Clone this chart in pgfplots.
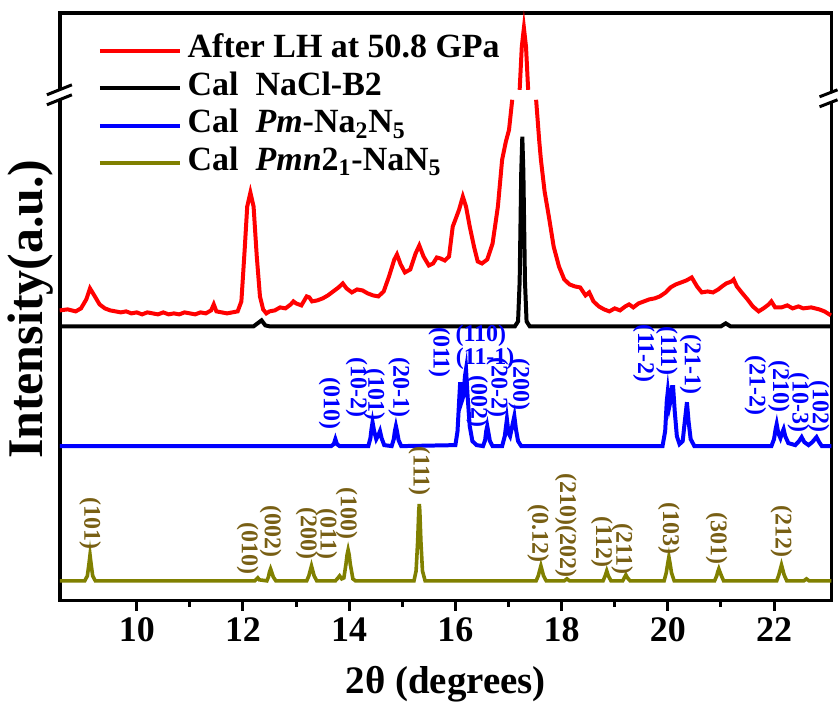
\documentclass[border=0pt]{standalone}
\usepackage{fontspec}
\setmainfont{Liberation Serif}
\usepackage{pgfplots}
\pgfplotsset{compat=1.18}
\definecolor{olivel}{RGB}{128,128,0}
\definecolor{olivet}{RGB}{120,95,20}
\definecolor{bluel}{RGB}{0,0,255}

\pgfplotstableread{
x y
8.55 291
8.7 292
8.85 290
8.95 293
9.05 302
9.12 313
9.2 306
9.3 297
9.4 293
9.5 291
9.6 290
9.7 289
9.8 290
9.9 288
10.0 289
10.1 287
10.2 289
10.3 288
10.4 287
10.5 289
10.6 287
10.7 288
10.8 287
10.9 289
11.0 288
11.1 287
11.2 289
11.3 288
11.4 291
11.45 297
11.5 290
11.6 289
11.7 288
11.8 289
11.9 290
11.97 300
12.03 350
12.08 395
12.14 409
12.2 395
12.26 345
12.32 305
12.38 292
12.44 288
12.5 290
12.6 291
12.7 294
12.8 293
12.9 297
12.95 300
13.0 298
13.1 296
13.2 305
13.25 304
13.3 300
13.4 301
13.5 303
13.6 306
13.7 310
13.8 314
13.88 318
13.95 313
14.05 309
14.15 312
14.25 311
14.35 308
14.45 306
14.55 305
14.65 310
14.75 325
14.85 342
14.9 347
14.97 337
15.05 329
15.15 332
15.25 348
15.32 356
15.4 345
15.5 336
15.58 338
15.65 344
15.72 343
15.8 341
15.88 345
15.95 375
16.0 382
16.07 392
16.14 405
16.2 395
16.27 375
16.35 355
16.42 340
16.5 338
16.6 342
16.7 358
16.8 395
16.88 442
16.95 460
17.01 472
17.07 502
nan nan
17.21 512
17.25 555
17.29 574
17.33 555
17.37 512
nan nan
17.52 502
17.58 460
17.61 442
17.68 410
17.76 385
17.85 355
17.95 335
18.05 322
18.15 317
18.25 315
18.35 314
18.45 306
18.52 309
18.6 300
18.7 295
18.8 292
18.9 290
19.0 293
19.1 291
19.2 295
19.27 297
19.35 294
19.45 298
19.55 300
19.65 302
19.75 303
19.85 305
19.96 309
20.05 314
20.15 317
20.25 319
20.35 321
20.45 324
20.55 315
20.64 309
20.75 310
20.85 309
20.95 312
21.02 315
21.1 318
21.2 320
21.24 322
21.3 315
21.39 309
21.5 302
21.6 295
21.71 290
21.8 293
21.9 297
21.95 300
22.02 294
22.14 294
22.25 296
22.35 293
22.46 295
22.55 293
22.7 294
22.85 292
22.95 290
23.07 286
}\redtab

\pgfplotstableread{
x y
8.553 275
12.2 275
12.3 279
12.35 281
12.42 276
12.5 275
17.12 275
17.18 280
17.21 320
17.24 430
17.26 465
17.28 430
17.31 320
17.34 280
17.4 275
21.0 275
21.09 278
21.18 275
23.08 275
}\blacktab

\pgfplotstableread{
x y
8.553 155
13.66 155
13.71 157
13.74 162
13.77 157
13.82 155
14.36 155
14.4 163
14.42 172
14.44 179
14.47 170
14.51 162
14.55 166
14.58 170
14.61 163
14.66 156
14.8 155
14.84 162
14.86 170
14.88 175
14.9 170
14.93 161
14.98 155
16.0 156
16.04 170
16.07 200
16.09 219
16.12 200
16.15 205
16.18 225
16.2 232
16.23 205
16.27 175
16.32 160
16.4 156
16.52 155
16.56 161
16.58 170
16.6 175
16.62 169
16.65 160
16.7 155
16.88 155
16.93 165
16.97 182
17.0 168
17.03 165
17.07 175
17.11 185
17.14 172
17.18 160
17.24 155
19.9 155
19.95 170
19.98 200
20.0 210
20.03 195
20.05 200
20.08 214
20.1 214
20.13 190
20.17 165
20.22 157
20.28 160
20.32 180
20.36 199
20.39 180
20.43 162
20.5 155
21.95 155
22.0 162
22.03 172
22.05 177
22.08 168
22.12 163
22.15 168
22.18 172
22.21 165
22.27 158
22.4 156
22.47 160
22.52 164
22.57 159
22.65 156
22.72 159
22.8 164
22.85 159
22.9 155
23.08 155
}\bluetab

\pgfplotstableread{
x y
8.553 20
9.02 20
9.07 25
9.1 37
9.12 46
9.14 37
9.17 25
9.22 20
12.22 20
12.26 22
12.28 23
12.31 21
12.45 20
12.48 24
12.5 29
12.52 32
12.54 29
12.57 24
12.62 20
13.2 20
13.24 25
13.27 31
13.29 35
13.31 31
13.34 25
13.39 20
13.74 20
13.79 23
13.82 25
13.86 22
13.9 23
13.94 37
13.96 46
13.98 51
14.0 46
14.02 37
14.07 22
14.12 20
15.22 20
15.26 30
15.29 60
15.31 90
15.32 97
15.33 90
15.35 60
15.38 30
15.43 20
17.52 20
17.56 25
17.59 31
17.61 35
17.63 31
17.66 25
17.71 20
18.05 20
18.1 22
18.15 20
18.78 20
18.82 25
18.85 30
18.88 25
18.93 20
19.15 20
19.19 24
19.21 26
19.24 23
19.29 20
19.93 20
19.97 28
20.0 38
20.02 44
20.04 38
20.07 28
20.12 20
20.88 20
20.92 25
20.94 29
20.96 32
20.98 29
21.01 25
21.05 20
22.05 20
22.09 26
22.12 32
22.14 36
22.16 32
22.19 26
22.24 20
22.56 20
22.61 22
22.66 20
23.08 20
}\olivetab

\newcommand{\bl}[3]{\node[font=\fontsize{12}{14}\selectfont\bfseries, text=bluel, rotate=-90, anchor=east, inner sep=0.5pt] at (axis cs:#1,#2) {#3};}
\newcommand{\ol}[3]{\node[font=\fontsize{12}{14}\selectfont\bfseries, text=olivet, rotate=-90, anchor=east, inner sep=0.5pt] at (axis cs:#1,#2) {#3};}

\begin{document}
\begin{tikzpicture}
\begin{axis}[
  width=386.5pt, height=294.5pt, scale only axis,
  xmin=8.553, xmax=23.08, ymin=0, ymax=589,
  clip=false,
  axis line style={line width=1.6pt},
  xtick={10,12,...,22}, minor x tick num=1,
  xtick pos=left, tick align=outside,
  major tick length=5pt, minor tick length=3pt,
  tick style={black, line width=1.5pt},
  ytick=\empty,
  /pgf/number format/assume math mode=true,
  xticklabel style={font=\fontsize{18}{20}\selectfont\bfseries},
  xlabel={\bfseries 2θ (degrees)},
  xlabel style={font=\fontsize{19.5}{22}\selectfont, at={(axis description cs:0.5,-0.141)}, anchor=center},
  ylabel={\bfseries Intensity(a.u.)},
  ylabel style={font=\fontsize{25}{28}\selectfont, at={(axis description cs:-0.0375,0.496)}, anchor=center},
  unbounded coords=jump,
  legend image code/.code={\draw[#1] (0pt,0pt) -- (40pt,0pt);},
  legend cell align=left,
  legend style={draw=none, fill=none, at={(axis description cs:0.041,0.975)}, anchor=north west,
    font=\fontsize{17}{20}\selectfont\bfseries, row sep=0pt, column sep=2pt,
    nodes={inner sep=1pt, text height=12pt, text depth=4.75pt}},
]
\path (axis cs:7.425,-106) rectangle (axis cs:23.195,602);
\addplot[red, line width=2pt] table {\redtab};
\addlegendentry{After LH at 50.8 GPa}
\addplot[black, line width=2pt] table {\blacktab};
\addlegendentry{Cal\ \ NaCl-B2}
\addplot[bluel, line width=2pt] table {\bluetab};
\addlegendentry{Cal\ \ \textit{Pm}-Na\textsubscript{2}N\textsubscript{5}}
\addplot[olivel, line width=1.8pt] table {\olivetab};
\addlegendentry{Cal\ \ \textit{Pmn}2\textsubscript{1}-NaN\textsubscript{5}}

% axis break marks
\fill[white] (axis cs:8.308,497) -- (axis cs:8.778,507) -- (axis cs:8.778,517) -- (axis cs:8.308,507) -- cycle;
\draw[line width=1.5pt] (axis cs:8.308,507) -- (axis cs:8.778,517);
\draw[line width=1.5pt] (axis cs:8.308,497) -- (axis cs:8.778,507);
\fill[white] (axis cs:22.857,495) -- (axis cs:23.195,502) -- (axis cs:23.195,512) -- (axis cs:22.857,505) -- cycle;
\draw[line width=1.5pt] (axis cs:22.857,505) -- (axis cs:23.195,512);
\draw[line width=1.5pt] (axis cs:22.857,495) -- (axis cs:23.195,502);

% blue labels
\bl{13.63}{170}{(010)}
\bl{14.14}{182}{(10-2)}
\bl{14.47}{179}{(101)}
\bl{14.94}{182}{(20-1)}
\bl{15.70}{222}{(011)}
\bl{16.41}{172}{(002)}
\bl{16.79}{182}{(20-2)}
\bl{17.20}{189}{(200)}
\node[font=\fontsize{12}{14}\selectfont\bfseries, text=bluel, inner sep=0pt] at (axis cs:16.48,266) {(110)};
\node[font=\fontsize{12}{14}\selectfont\bfseries, text=bluel, inner sep=0pt] at (axis cs:16.56,243) {(11-1)};
\bl{19.55}{217}{(11-2)}
\bl{19.98}{224}{(111)}
\bl{20.43}{205}{(21-1)}
\bl{21.65}{184}{(21-2)}
\bl{22.09}{187}{(210)}
\bl{22.46}{167}{(10-3)}
\bl{22.84}{167}{(102)}

% olive labels
\ol{9.12}{50}{(101)}
\ol{12.09}{25}{(010)}
\ol{12.52}{42}{(002)}
\ol{13.20}{40}{(200)}
\ol{13.57}{40}{(011)}
\ol{13.95}{60}{(100)}
\ol{15.32}{104}{(111)}
\ol{17.56}{37}{(0.12)}
\ol{18.08}{22}{(210)(202)}
\ol{18.76}{32}{(112)}
\ol{19.14}{25}{(211)}
\ol{20.02}{45}{(103)}
\ol{20.92}{35}{(301)}
\ol{22.14}{42}{(212)}
\end{axis}
\end{tikzpicture}
\end{document}
